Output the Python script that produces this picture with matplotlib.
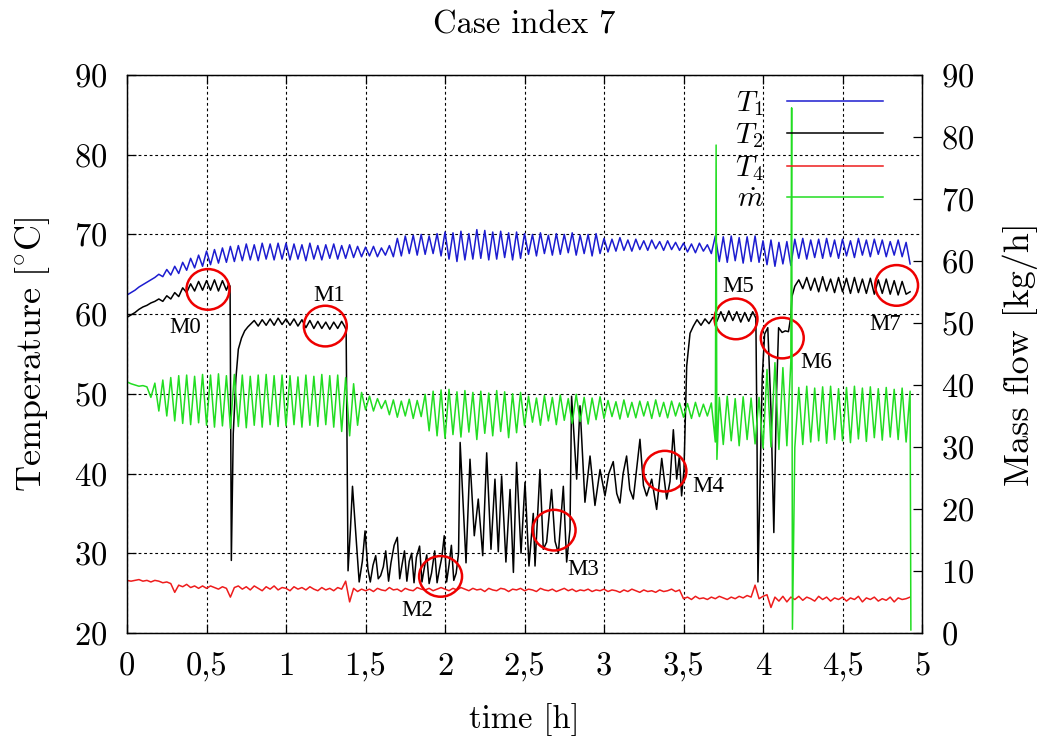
import numpy as np
import matplotlib
matplotlib.use('Agg')
import matplotlib.pyplot as plt
from matplotlib.patches import Ellipse

plt.rcParams['font.family'] = ['cmr10', 'DejaVu Serif']
plt.rcParams['mathtext.fontset'] = 'cm'
plt.rcParams['axes.unicode_minus'] = False
plt.rcParams['axes.formatter.use_mathtext'] = True

DT = 0.025  # sample spacing of the logged series [h]

# T1 (blue), one row per half hour
t1_vals = [
    62.4, 62.7, 63.0, 63.4, 63.7, 64.0, 64.3, 64.6, 65.0, 64.7, 65.6, 64.9, 66.0, 65.1, 66.5, 65.5, 67.0, 65.8, 67.4, 66.0,
    67.9, 66.2, 68.1, 66.4, 68.3, 66.5, 68.5, 66.6, 68.6, 66.7, 68.8, 66.8, 68.7, 66.7, 68.9, 66.9, 68.8, 66.8, 68.9, 66.9,
    68.9, 66.8, 68.8, 66.9, 68.7, 66.7, 68.9, 66.9, 68.6, 66.8, 68.7, 67.0, 68.8, 66.9, 68.6, 67.0, 68.7, 67.1, 68.5, 67.2,
    68.4, 67.3, 68.5, 67.2, 68.3, 67.4, 68.6, 67.2, 69.5, 67.3, 69.8, 67.6, 69.9, 67.4, 70.0, 67.5, 69.8, 67.6, 70.1, 67.3,
    70.3, 66.9, 70.2, 66.6, 70.4, 66.8, 70.1, 66.9, 70.6, 67.0, 70.5, 66.8, 70.3, 66.9, 70.4, 67.1, 70.2, 66.8, 70.3, 67.0,
    70.1, 67.5, 70.0, 67.3, 70.2, 67.6, 69.9, 67.4, 70.1, 67.5, 70.0, 67.7, 70.2, 67.4, 69.9, 67.6, 70.0, 67.3, 70.1, 67.6,
    69.5, 67.8, 69.4, 67.9, 69.6, 68.0, 69.3, 67.9, 69.4, 68.1, 69.2, 68.0, 69.3, 68.2, 69.1, 68.0, 69.2, 68.1, 69.0, 68.0,
    68.9, 67.8, 68.8, 67.7, 68.9, 67.9, 68.7, 67.6, 69.8, 66.6, 69.7, 66.5, 69.8, 66.7, 69.6, 66.4, 69.7, 66.6, 69.8, 66.5,
    69.2, 66.2, 69.3, 66.0, 69.0, 66.3, 69.1, 66.1, 69.4, 67.0, 69.5, 66.9, 69.3, 67.1, 69.4, 67.0, 69.5, 67.2, 69.3, 67.0,
    69.4, 67.3, 69.2, 67.1, 69.5, 67.4, 69.3, 67.2, 69.4, 67.5, 69.3, 67.2, 69.1, 67.4, 69.3, 67.2, 69.0, 66.3,
]

# T4 (red)
t4_vals = [
    26.6, 26.5, 26.6, 26.7, 26.5, 26.6, 26.4, 26.6, 26.5, 26.3, 26.4, 26.2, 25.1, 26.0, 25.8, 26.1, 25.7, 25.9, 25.6, 25.9,
    25.6, 25.9, 25.7, 25.5, 25.8, 25.6, 24.5, 25.7, 25.9, 25.5, 25.8, 25.4, 25.9, 25.6, 25.3, 25.8, 25.5, 25.9, 25.4, 25.7,
    25.6, 25.3, 25.8, 25.5, 25.7, 25.4, 25.8, 25.5, 25.3, 25.7, 25.4, 25.6, 25.3, 25.7, 25.5, 26.5, 23.9, 25.6, 25.2, 25.5,
    25.3, 25.5, 25.2, 25.6, 25.4, 25.3, 25.7, 25.4, 25.5, 25.2, 25.6, 25.4, 25.3, 25.7, 25.5, 25.4, 25.6, 25.3, 25.5, 25.7,
    25.5, 25.3, 25.6, 25.4, 25.7, 25.5, 25.3, 25.6, 25.4, 25.5, 25.2, 25.6, 25.4, 25.3, 25.6, 25.5, 25.2, 25.5, 25.4, 25.6,
    25.3, 25.5, 25.4, 25.2, 25.6, 25.4, 25.3, 25.5, 25.2, 25.4, 25.6, 25.3, 25.5, 25.2, 25.4, 25.3, 25.5, 25.2, 25.4, 25.3,
    25.5, 25.2, 25.4, 25.3, 25.1, 25.4, 25.2, 25.5, 25.3, 25.1, 25.4, 25.2, 25.3, 25.1, 25.4, 25.2, 25.3, 25.5, 25.2, 25.4,
    24.3, 24.5, 24.2, 24.6, 24.3, 24.4, 24.2, 24.5, 24.3, 24.6, 24.4, 24.2, 24.5, 24.3, 24.6, 24.4, 24.7, 24.5, 26.0, 24.3,
    24.6, 24.8, 23.2, 24.5, 24.0, 24.6, 23.9, 24.5, 24.2, 24.6, 24.1, 24.5, 24.3, 24.0, 24.6, 24.2, 24.5, 24.0, 24.4, 24.2,
    24.5, 24.0, 24.4, 24.2, 24.6, 23.9, 24.4, 24.2, 24.5, 24.0, 24.3, 24.1, 24.5, 23.9, 24.4, 24.2, 24.3, 24.5,
]

# mass flow (green, right axis)
m_vals = [
    40.5, 40.2, 40.0, 39.8, 39.9, 39.7, 38.0, 40.3, 35.8, 40.8, 35.0, 41.2, 34.2, 41.5, 33.8, 41.6, 33.6, 41.4, 33.9, 41.7,
    33.5, 41.6, 33.2, 41.8, 33.4, 41.5, 33.0, 41.7, 33.3, 41.6, 33.1, 41.4, 33.5, 41.6, 33.2, 41.7, 33.6, 41.5, 33.3, 41.6,
    33.4, 41.5, 33.6, 41.3, 33.2, 41.6, 33.5, 41.4, 33.3, 41.7, 33.6, 41.5, 33.2, 41.6, 32.5, 41.2, 31.8, 40.2, 33.5, 38.8,
    36.0, 38.2, 35.8, 37.8, 36.2, 37.5, 35.2, 37.6, 34.8, 37.4, 35.0, 37.7, 34.6, 37.5, 34.9, 38.5, 32.6, 39.0, 31.8, 39.2,
    31.4, 39.3, 32.0, 38.9, 31.6, 39.1, 32.4, 38.8, 31.2, 39.0, 32.2, 38.7, 31.8, 39.1, 32.5, 38.9, 31.5, 38.6, 32.3, 38.8,
    33.4, 38.2, 34.0, 37.9, 33.5, 38.3, 34.2, 38.0, 33.6, 38.4, 34.3, 37.8, 33.8, 38.5, 34.1, 38.0, 33.7, 37.9, 34.4, 38.1,
    34.6, 37.5, 34.9, 37.3, 34.5, 37.6, 34.8, 37.2, 34.7, 37.4, 35.0, 37.3, 34.6, 37.6, 34.9, 37.2, 34.7, 37.4, 35.0, 37.1,
    34.8, 37.0, 34.6, 37.2, 34.9, 36.9, 35.0, 37.1, 30.8, 38.0, 30.4, 38.2, 31.0, 37.8, 30.2, 38.1, 31.2, 37.9, 30.5, 38.0,
    29.8, 42.5, 30.0, 43.6, 29.6, 42.8, 30.2, 43.8, 29.9, 39.6, 30.4, 39.8, 30.8, 39.5, 31.0, 39.7, 30.6, 39.8, 31.2, 39.4,
    31.0, 39.6, 30.7, 39.8, 31.3, 39.5, 30.9, 39.7, 31.5, 39.4, 31.1, 39.6, 31.6, 39.3, 31.2, 39.5, 30.8, 39.0,
]
# short spikes / final drop of the mass flow signal
m_event_time = [3.705, 3.71, 4.18, 4.185, 4.93]
m_event_vals = [78.7, 28.0, 84.7, 0.6, 0.5]

# T2 (black), irregular sampling
t2_time = [
    0.0, 0.025, 0.05, 0.075, 0.1, 0.125, 0.15, 0.175, 0.2, 0.225, 0.25, 0.275, 0.3, 0.325, 0.35, 0.375,
    0.4, 0.425, 0.45, 0.475, 0.5, 0.525, 0.55, 0.575, 0.6, 0.625, 0.64, 0.648, 0.656, 0.668, 0.685, 0.7,
    0.72, 0.74, 0.76, 0.775, 0.8, 0.825, 0.85, 0.875, 0.9, 0.925, 0.95, 0.975, 1.0, 1.025, 1.05, 1.075,
    1.1, 1.125, 1.15, 1.175, 1.2, 1.225, 1.25, 1.275, 1.3, 1.325, 1.35, 1.37, 1.378, 1.39, 1.405, 1.418,
    1.44, 1.46, 1.48, 1.497, 1.515, 1.53, 1.547, 1.564, 1.58, 1.595, 1.612, 1.627, 1.645, 1.66, 1.68, 1.7,
    1.715, 1.73, 1.745, 1.76, 1.775, 1.79, 1.805, 1.82, 1.84, 1.855, 1.87, 1.885, 1.9, 1.915, 1.935, 1.95,
    1.965, 1.98, 1.995, 2.01, 2.025, 2.04, 2.055, 2.07, 2.085, 2.095, 2.132, 2.157, 2.184, 2.209, 2.237, 2.262,
    2.289, 2.314, 2.335, 2.356, 2.383, 2.409, 2.43, 2.45, 2.478, 2.503, 2.528, 2.555, 2.566, 2.597, 2.618, 2.639,
    2.67, 2.692, 2.713, 2.744, 2.765, 2.786, 2.796, 2.828, 2.849, 2.88, 2.912, 2.943, 2.975, 3.006, 3.03, 3.058,
    3.08, 3.1, 3.12, 3.142, 3.162, 3.184, 3.205, 3.226, 3.248, 3.268, 3.3, 3.331, 3.363, 3.394, 3.415, 3.436,
    3.457, 3.474, 3.488, 3.503, 3.52, 3.541, 3.562, 3.585, 3.61, 3.635, 3.66, 3.685, 3.71, 3.735, 3.76, 3.785,
    3.81, 3.835, 3.86, 3.885, 3.91, 3.935, 3.955, 3.962, 3.968, 3.98, 3.995, 4.01, 4.03, 4.05, 4.068, 4.085,
    4.098, 4.12, 4.14, 4.16, 4.175, 4.182, 4.2, 4.225, 4.25, 4.275, 4.3, 4.325, 4.35, 4.375, 4.4, 4.425,
    4.45, 4.475, 4.5, 4.525, 4.55, 4.575, 4.6, 4.625, 4.65, 4.675, 4.7, 4.725, 4.75, 4.775, 4.8, 4.825,
    4.85, 4.875, 4.9, 4.925,
]
t2_vals = [
    59.6, 59.9, 60.2, 60.6, 60.9, 61.1, 61.4, 61.6, 61.9, 61.6, 62.3, 61.9, 62.7, 62.2, 63.3, 62.7,
    63.8, 62.9, 64.1, 63.0, 64.2, 63.0, 64.3, 62.9, 64.2, 63.0, 63.8, 63.5, 29.1, 45.0, 52.0, 55.6,
    57.0, 57.9, 58.4, 58.7, 59.2, 58.5, 59.3, 58.6, 59.4, 58.6, 59.5, 58.7, 59.4, 58.6, 59.4, 58.5,
    59.3, 58.3, 59.2, 58.2, 59.1, 58.2, 59.0, 58.1, 59.0, 58.2, 59.1, 58.4, 58.0, 27.8, 33.0, 38.4,
    32.2, 26.4, 29.0, 32.8, 28.0, 26.4, 28.5, 29.7, 26.8, 27.2, 28.3, 30.3, 26.5, 28.8, 31.0, 32.0,
    26.8, 28.6, 30.3, 26.5, 29.0, 30.0, 26.3, 29.5, 30.9, 26.4, 28.2, 29.8, 26.2, 27.5, 30.3, 26.3,
    28.0, 29.5, 32.2, 26.4, 28.5, 31.0, 26.6, 27.5, 30.0, 43.9, 28.8, 41.8, 32.2, 36.8, 29.7, 42.6,
    30.5, 39.3, 30.2, 39.7, 28.9, 38.0, 27.6, 41.4, 30.0, 38.9, 28.4, 35.0, 28.4, 40.5, 30.5, 31.4,
    38.0, 31.5, 30.0, 38.4, 28.9, 33.0, 49.7, 39.3, 48.5, 36.4, 42.2, 36.0, 40.5, 37.2, 40.0, 41.5,
    37.5, 36.3, 40.0, 42.2, 38.0, 36.8, 40.5, 44.3, 38.5, 37.2, 39.3, 35.5, 41.9, 36.8, 39.0, 45.5,
    39.3, 42.2, 37.2, 40.5, 53.5, 57.6, 58.5, 59.3, 58.6, 59.4, 58.8, 59.6, 59.1, 60.3, 59.1, 60.4,
    59.2, 60.3, 59.0, 60.2, 59.1, 60.3, 59.5, 45.0, 26.4, 38.0, 52.0, 57.5, 58.3, 48.0, 32.6, 50.0,
    58.3, 57.7, 57.9, 57.8, 59.7, 62.2, 63.5, 64.3, 63.2, 64.6, 63.0, 64.5, 62.8, 64.7, 62.9, 64.4,
    62.7, 64.6, 62.8, 64.5, 62.6, 64.6, 62.7, 64.4, 62.6, 64.5, 62.5, 64.3, 62.6, 64.4, 62.5, 64.2,
    62.4, 64.1, 62.5, 62.8,
]

# red measurement circles and their labels
marker_names = ['M0', 'M1', 'M2', 'M3', 'M4', 'M5', 'M6', 'M7']
marker_t = [0.509, 1.247, 1.972, 2.686, 3.383, 3.830, 4.121, 4.840]
marker_T = [63.1, 58.5, 27.1, 32.9, 40.3, 59.4, 57.0, 63.6]
label_t = [0.363, 1.272, 1.823, 2.870, 3.653, 3.841, 4.336, 4.770]
label_T = [58.3, 62.3, 22.8, 28.0, 38.4, 63.5, 53.9, 58.7]

x_ticks = [0, 0.5, 1, 1.5, 2, 2.5, 3, 3.5, 4, 4.5, 5]
x_labels = ['0', '0,5', '1', '1,5', '2', '2,5', '3', '3,5', '4', '4,5', '5']
temp_ticks = list(range(20, 91, 10))
flow_ticks = list(range(0, 91, 10))

BLUE = '#1c1cd0'
RED = '#ee1c1c'
GREEN = '#22dd22'


def main():
    grid_time = np.arange(len(t1_vals)) * DT

    fig = plt.figure(figsize=(10.43, 7.38), dpi=100)
    ax = fig.add_axes([0.1218, 0.1423, 0.7622, 0.7561])
    ax2 = ax.twinx()

    l1, = ax.plot(grid_time, t1_vals, color=BLUE, lw=1.1)
    l2, = ax.plot(t2_time, t2_vals, color='black', lw=1.1)
    l4, = ax.plot(np.arange(len(t4_vals)) * DT, t4_vals, color=RED, lw=1.1)

    m_time = np.concatenate([np.arange(len(m_vals)) * DT, m_event_time])
    m_all = np.concatenate([m_vals, m_event_vals])
    order = np.argsort(m_time, kind='stable')
    lm, = ax2.plot(m_time[order], m_all[order], color=GREEN, lw=1.1)

    ax.set_xlim(0, 5)
    ax.set_ylim(20, 90)
    ax2.set_ylim(0, 90)

    ax.set_xticks(x_ticks, x_labels)
    ax.set_yticks(temp_ticks)
    ax2.set_yticks(flow_ticks)

    ax.tick_params(axis='both', direction='in', length=6.5, width=0.9,
                   labelsize=23.5, pad=14, top=True, right=False)
    ax2.tick_params(axis='y', direction='in', length=6.5, width=0.9,
                    labelsize=23.5, pad=14)
    for a in (ax, ax2):
        for s in a.spines.values():
            s.set_linewidth(0.9)

    ax.grid(True, color='black', lw=0.8, ls=(0, (2.5, 2.5)))

    ax.set_title('Case index 7', fontsize=23.5, pad=30)
    ax.set_xlabel('time [h]', fontsize=23.5, labelpad=15)
    ax.set_ylabel(r'$\mathrm{Temperature\ [^{\circ}C]}$', fontsize=26, labelpad=16)
    ax2.set_ylabel('Mass flow [kg/h]', fontsize=26, labelpad=20)

    # circles around the evaluated steady states
    for name, tc, Tc, tl, Tl in zip(marker_names, marker_t, marker_T, label_t, label_T):
        ax.add_patch(Ellipse((tc, Tc), 0.27, 5.1, fill=False, ec='#ee0000', lw=1.8, zorder=5))
        ax.text(tl, Tl, name, ha='center', va='center', fontsize=16.5,
                family='Liberation Serif', zorder=6)

    ax2.legend([l1, l2, l4, lm], ['$T_1$', '$T_2$', '$T_4$', '$\\dot{m}$'],
               loc='upper right', bbox_to_anchor=(0.951, 0.975), frameon=False,
               markerfirst=False, fontsize=21, handlelength=3.3, handletextpad=0.8,
               labelspacing=0.12, borderpad=0, borderaxespad=0)

    fig.savefig('out.png', dpi=100)


if __name__ == '__main__':
    main()
